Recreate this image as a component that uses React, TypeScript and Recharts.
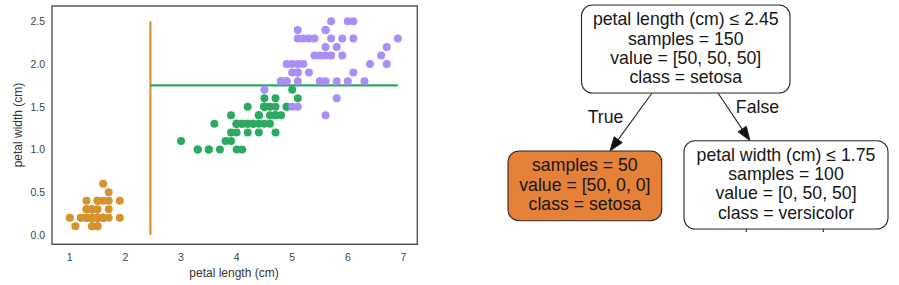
import { ScatterChart, Scatter, XAxis, YAxis, ReferenceLine, ReferenceArea } from 'recharts'

// iris petal measurements, one pair of arrays per class
const setosaLength = [1.4, 1.4, 1.3, 1.5, 1.4, 1.7, 1.4, 1.5, 1.4, 1.5, 1.5, 1.6, 1.4, 1.1, 1.2, 1.5, 1.3, 1.4, 1.7, 1.5, 1.7, 1.5, 1.0, 1.7, 1.9, 1.6, 1.6, 1.5, 1.4, 1.6, 1.6, 1.5, 1.5, 1.4, 1.5, 1.2, 1.3, 1.4, 1.3, 1.5, 1.3, 1.3, 1.3, 1.6, 1.9, 1.4, 1.6, 1.4, 1.5, 1.4]
const setosaWidth = [0.2, 0.2, 0.2, 0.2, 0.2, 0.4, 0.3, 0.2, 0.2, 0.1, 0.2, 0.2, 0.1, 0.1, 0.2, 0.4, 0.4, 0.3, 0.3, 0.3, 0.2, 0.4, 0.2, 0.5, 0.2, 0.2, 0.4, 0.2, 0.2, 0.2, 0.2, 0.4, 0.1, 0.2, 0.2, 0.2, 0.2, 0.1, 0.2, 0.2, 0.3, 0.3, 0.2, 0.6, 0.4, 0.3, 0.2, 0.2, 0.2, 0.2]
const versicolorLength = [4.7, 4.5, 4.9, 4.0, 4.6, 4.5, 4.7, 3.3, 4.6, 3.9, 3.5, 4.2, 4.0, 4.7, 3.6, 4.4, 4.5, 4.1, 4.5, 3.9, 4.8, 4.0, 4.9, 4.7, 4.3, 4.4, 4.8, 5.0, 4.5, 3.5, 3.8, 3.7, 3.9, 5.1, 4.5, 4.5, 4.7, 4.4, 4.1, 4.0, 4.4, 4.6, 4.0, 3.3, 4.2, 4.2, 4.2, 4.3, 3.0, 4.1]
const versicolorWidth = [1.4, 1.5, 1.5, 1.3, 1.5, 1.3, 1.6, 1.0, 1.3, 1.4, 1.0, 1.5, 1.0, 1.4, 1.3, 1.4, 1.5, 1.0, 1.5, 1.1, 1.8, 1.3, 1.5, 1.2, 1.3, 1.4, 1.4, 1.7, 1.5, 1.0, 1.1, 1.0, 1.2, 1.6, 1.5, 1.6, 1.5, 1.3, 1.3, 1.3, 1.2, 1.4, 1.2, 1.0, 1.3, 1.2, 1.3, 1.3, 1.1, 1.3]
const virginicaLength = [6.0, 5.1, 5.9, 5.6, 5.8, 6.6, 4.5, 6.3, 5.8, 6.1, 5.1, 5.3, 5.5, 5.0, 5.1, 5.3, 5.5, 6.7, 6.9, 5.0, 5.7, 4.9, 6.7, 4.9, 5.7, 6.0, 4.8, 4.9, 5.6, 5.8, 6.1, 6.4, 5.6, 5.1, 5.6, 6.1, 5.6, 5.5, 4.8, 5.4, 5.6, 5.1, 5.1, 5.9, 5.7, 5.2, 5.0, 5.2, 5.4, 5.1]
const virginicaWidth = [2.5, 1.9, 2.1, 1.8, 2.2, 2.1, 1.7, 1.8, 1.8, 2.5, 2.0, 1.9, 2.1, 2.0, 2.4, 2.3, 1.8, 2.2, 2.3, 1.5, 2.3, 2.0, 2.0, 1.8, 2.1, 1.8, 1.8, 1.8, 2.1, 1.6, 1.9, 2.0, 2.2, 1.5, 1.4, 2.3, 2.4, 1.8, 1.8, 2.1, 2.4, 2.3, 1.9, 2.3, 2.5, 2.3, 1.9, 2.0, 2.3, 1.8]

// decision boundaries
const lengthSplit = 2.45
const widthSplit = 1.75

const xTicks = [1, 2, 3, 4, 5, 6, 7]
const yTicks = [0, 0.5, 1, 1.5, 2, 2.5]
const xDomain = [0.68, 7.25]
const yDomain = [-0.11, 2.68]

// tree text
const rootLines = ['petal length (cm) ≤ 2.45', 'samples = 150', 'value = [50, 50, 50]', 'class = setosa']
const leftLines = ['samples = 50', 'value = [50, 0, 0]', 'class = setosa']
const rightLines = ['petal width (cm) ≤ 1.75', 'samples = 100', 'value = [0, 50, 50]', 'class = versicolor']
const edgeLabels = ['True', 'False']

const FONT = '"Liberation Sans", Arial, sans-serif'
const ORANGE = '#D6922C'
const GREEN = '#2EAA60'
const PURPLE = '#AA8DF5'

const toPoints = (xs: number[], ys: number[]) => xs.map((x, i) => ({ x, y: ys[i] }))

const dot = (color: string) => (props: any) => (
  <circle cx={props.cx} cy={props.cy} r={4} fill={color} />
)

function Node({ x, y, w, h, lines, fill }: { x: number; y: number; w: number; h: number; lines: string[]; fill: string }) {
  const cx = x + w / 2
  return (
    <g>
      <rect x={x} y={y} width={w} height={h} rx={11} ry={11} fill={fill} stroke="#262626" strokeWidth={1.1} />
      {lines.map((t, i) => (
        <text key={i} x={cx} y={y + 20.3 + i * 19.2} textAnchor="middle" fontSize={17.7} fill="#161616">
          {t}
        </text>
      ))}
    </g>
  )
}

function Edge({ x1, y1, x2, y2 }: { x1: number; y1: number; x2: number; y2: number }) {
  const dx = x2 - x1
  const dy = y2 - y1
  const len = Math.hypot(dx, dy)
  const ux = dx / len
  const uy = dy / len
  const bx = x2 - ux * 14
  const by = y2 - uy * 14
  const px = -uy * 5
  const py = ux * 5
  return (
    <g>
      <line x1={x1} y1={y1} x2={bx} y2={by} stroke="#262626" strokeWidth={1.1} />
      <polygon points={`${x2},${y2} ${bx + px},${by + py} ${bx - px},${by - py}`} fill="#111" stroke="#262626" strokeWidth={1} />
    </g>
  )
}

export default function App() {
  return (
    <div style={{ position: 'absolute', left: 0, top: 0, width: 899, height: 285, background: '#fff', fontFamily: FONT }}>
      <ScatterChart width={430} height={285} margin={{ top: 6, right: 12.7, bottom: 10.7, left: 12 }}>
        <XAxis
          type="number"
          dataKey="x"
          domain={xDomain}
          ticks={xTicks}
          allowDataOverflow
          height={30}
          axisLine={false}
          tickLine={false}
          tickMargin={3.5}
          tick={{ fontSize: 10.5, fill: '#444', fontFamily: FONT }}
        />
        <YAxis
          type="number"
          dataKey="y"
          domain={yDomain}
          ticks={yTicks}
          allowDataOverflow
          width={40}
          axisLine={false}
          tickLine={false}
          tickSize={5}
          tickFormatter={(v: number) => v.toFixed(1)}
          tick={{ fontSize: 10.5, fill: '#444', fontFamily: FONT }}
        />
        <Scatter data={toPoints(setosaLength, setosaWidth)} shape={dot(ORANGE)} isAnimationActive={false} />
        <Scatter data={toPoints(versicolorLength, versicolorWidth)} shape={dot(GREEN)} isAnimationActive={false} />
        <Scatter data={toPoints(virginicaLength, virginicaWidth)} shape={dot(PURPLE)} isAnimationActive={false} />
        <ReferenceLine segment={[{ x: lengthSplit, y: 0 }, { x: lengthSplit, y: 2.5 }]} stroke={ORANGE} strokeWidth={2.2} />
        <ReferenceLine segment={[{ x: lengthSplit, y: widthSplit }, { x: 6.9, y: widthSplit }]} stroke={GREEN} strokeWidth={2.2} />
        <ReferenceArea x1={xDomain[0]} x2={xDomain[1]} y1={yDomain[0]} y2={yDomain[1]} fill="none" stroke="#555" strokeWidth={1.4} ifOverflow="visible" />
      </ScatterChart>
      <svg width={899} height={285} style={{ position: 'absolute', left: 0, top: 0, pointerEvents: 'none', fontFamily: FONT }}>
        <text x={234} y={277} textAnchor="middle" fontSize={12} fill="#333">petal length (cm)</text>
        <text x={22} y={125} textAnchor="middle" fontSize={12} fill="#333" transform="rotate(-90 22 125)">petal width (cm)</text>

        <Edge x1={652} y1={93} x2={610} y2={151} />
        <Edge x1={718} y1={93} x2={750} y2={140.7} />
        <text x={605.5} y={123.3} textAnchor="middle" fontSize={17.7} fill="#161616">{edgeLabels[0]}</text>
        <text x={757.5} y={112.7} textAnchor="middle" fontSize={17.7} fill="#161616">{edgeLabels[1]}</text>
        <line x1={746.5} y1={229} x2={746} y2={232} stroke="#262626" strokeWidth={1.1} />
        <line x1={823} y1={229} x2={823.5} y2={232} stroke="#262626" strokeWidth={1.1} />

        <Node x={581.5} y={5} w={208.5} h={88} lines={rootLines} fill="#ffffff" />
        <Node x={508} y={151} w={153.7} h={69.7} lines={leftLines} fill="#E58139" />
        <Node x={684} y={140.7} w={204} h={88.3} lines={rightLines} fill="#ffffff" />
      </svg>
    </div>
  )
}
